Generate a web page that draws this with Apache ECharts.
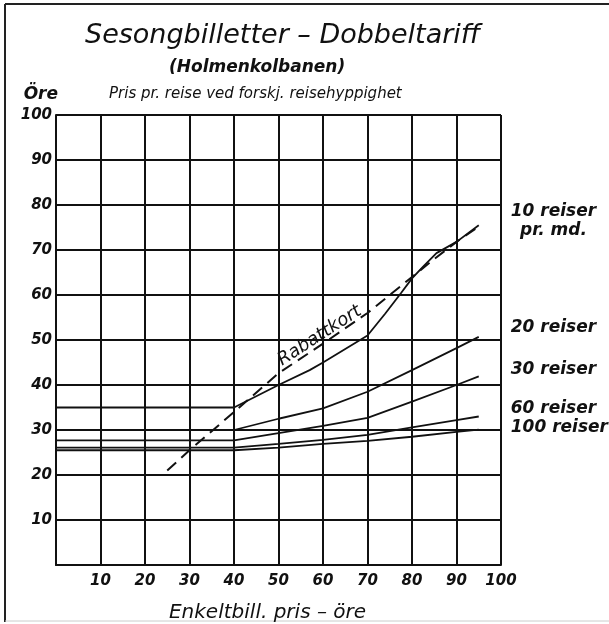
<!DOCTYPE html>
<html>
<head>
<meta charset="utf-8">
<script src="https://cdn.jsdelivr.net/npm/echarts@6/dist/echarts.min.js"></script>
<style>
  html, body { margin: 0; padding: 0; background: #fff; }
  #chart { width: 609px; height: 624px; }
</style>
</head>
<body>
<div id="chart"></div>
<script>
// Pris pr. reise (öre) mot enkeltbillettpris (öre), lest av diagrammet
const reiser10 = [[0, 35], [40, 35], [50, 40], [57, 43.3], [60, 45], [70, 51], [74, 55.9], [77.5, 60.4], [80, 63.7], [82.5, 66.3], [85.5, 69.3], [90, 71.8], [95, 75.5]];
const reiser20 = [[0, 30], [40, 30], [50, 32.5], [60, 34.8], [70, 38.5], [80, 43.3], [90, 48.2], [95, 50.7]];
const reiser30 = [[0, 27.7], [40, 27.7], [50, 29.3], [60, 30.9], [70, 32.7], [80, 36.3], [90, 40], [95, 41.9]];
const reiser60 = [[0, 26.1], [40, 26.1], [50, 26.9], [60, 27.8], [70, 28.9], [80, 30.6], [90, 32.2], [95, 33]];
const reiser100 = [[0, 25.5], [40, 25.5], [50, 26.1], [60, 26.9], [70, 27.6], [80, 28.5], [90, 29.6], [95, 30.1]];
const rabattkort = [[25, 21], [30, 25.5], [40, 34], [50, 42.6], [60, 49.2], [70, 56], [80, 64], [85, 68], [90, 71.8], [95, 75.2]];

const FONT = '"DejaVu Sans", sans-serif';
const INK = '#111';

const chart = echarts.init(document.getElementById('chart'));

// solid line series with the label written to the right of the line end
function reiseSerie(name, data, label, dy) {
  const txt = { fontFamily: FONT, fontStyle: 'italic', fontWeight: 'bold', fontSize: 17, color: INK, lineHeight: 19 };
  return {
    name: name,
    type: 'line',
    data: data,
    showSymbol: false,
    symbol: 'none',
    lineStyle: { color: INK, width: 1.8 },
    endLabel: Object.assign({
      show: true,
      formatter: label,
      offset: [24, dy],
      rich: { c: Object.assign({ align: 'center' }, txt) }
    }, txt),
    z: 3
  };
}

const option = {
  animation: false,
  backgroundColor: '#fff',
  title: [
    {
      text: 'Sesongbilletter – Dobbeltariff',
      left: 80, top: 17,
      textStyle: { fontFamily: FONT, fontStyle: 'italic', fontWeight: 'normal', fontSize: 27, color: INK }
    },
    {
      text: '(Holmenkolbanen)',
      left: 164, top: 54,
      textStyle: { fontFamily: FONT, fontStyle: 'italic', fontWeight: 'bold', fontSize: 17, color: INK }
    },
    {
      text: 'Pris pr. reise ved forskj. reisehyppighet',
      left: 104, top: 82,
      textStyle: { fontFamily: FONT, fontStyle: 'italic', fontWeight: 'normal', fontSize: 15, color: INK }
    }
  ],
  graphic: [
    { type: 'line', shape: { x1: 5, y1: 4, x2: 609, y2: 4 }, style: { stroke: '#222', lineWidth: 2 } },
    { type: 'line', shape: { x1: 5, y1: 4, x2: 5, y2: 622 }, style: { stroke: '#222', lineWidth: 2 } },
    { type: 'line', shape: { x1: 5, y1: 621, x2: 609, y2: 621 }, style: { stroke: '#ccc', lineWidth: 1 } }
  ],
  grid: { left: 56, right: 108, top: 115, bottom: 59, outerBoundsMode: 'none' },
  xAxis: {
    type: 'value',
    min: 0, max: 100, interval: 10,
    name: 'Enkeltbill. pris – öre',
    nameLocation: 'middle',
    nameGap: 38,
    nameTextStyle: { fontFamily: FONT, fontStyle: 'italic', fontSize: 20, color: INK, padding: [0, 22, 0, 0] },
    axisLine: { lineStyle: { color: INK, width: 2 } },
    axisTick: { show: false },
    splitLine: { show: true, lineStyle: { color: INK, width: 2 } },
    axisLabel: {
      showMinLabel: false,
      margin: 9,
      fontFamily: FONT, fontStyle: 'italic', fontWeight: 'bold', fontSize: 15, color: INK
    }
  },
  yAxis: {
    type: 'value',
    min: 0, max: 100, interval: 10,
    name: 'Öre',
    nameLocation: 'end',
    nameGap: 20,
    nameTextStyle: { fontFamily: FONT, fontStyle: 'italic', fontWeight: 'bold', fontSize: 17, color: INK, align: 'right', verticalAlign: 'middle', padding: [0, -2, 0, 0] },
    axisLine: { lineStyle: { color: INK, width: 2 } },
    axisTick: { show: false },
    splitLine: { show: true, lineStyle: { color: INK, width: 2 } },
    axisLabel: {
      showMinLabel: false,
      margin: 4,
      fontFamily: FONT, fontStyle: 'italic', fontWeight: 'bold', fontSize: 15, color: INK
    }
  },
  series: [
    reiseSerie('10 reiser', reiser10, '{c|10 reiser}\n{c|pr. md.}', -4),
    reiseSerie('20 reiser', reiser20, '20 reiser', -9),
    reiseSerie('30 reiser', reiser30, '30 reiser', -7),
    reiseSerie('60 reiser', reiser60, '60 reiser', -8),
    reiseSerie('100 reiser', reiser100, '100 reiser', -2),
    {
      name: 'Rabattkort',
      type: 'line',
      symbol: 'circle',
      symbolSize: 0,
      showSymbol: true,
      data: rabattkort.map(function (p) {
        if (p[0] !== 60) return p;
        return {
          value: p,
          label: {
            show: true,
            formatter: 'Rabattkort',
            position: 'top',
            distance: 10,
            offset: [-4, 0],
            rotate: 33,
            align: 'center',
            verticalAlign: 'middle',
            fontFamily: FONT, fontStyle: 'italic', fontSize: 18, color: INK
          }
        };
      }),
      lineStyle: { color: INK, width: 2, type: [12, 7] },
      z: 4
    }
  ]
};

chart.setOption(option);
</script>
</body>
</html>
